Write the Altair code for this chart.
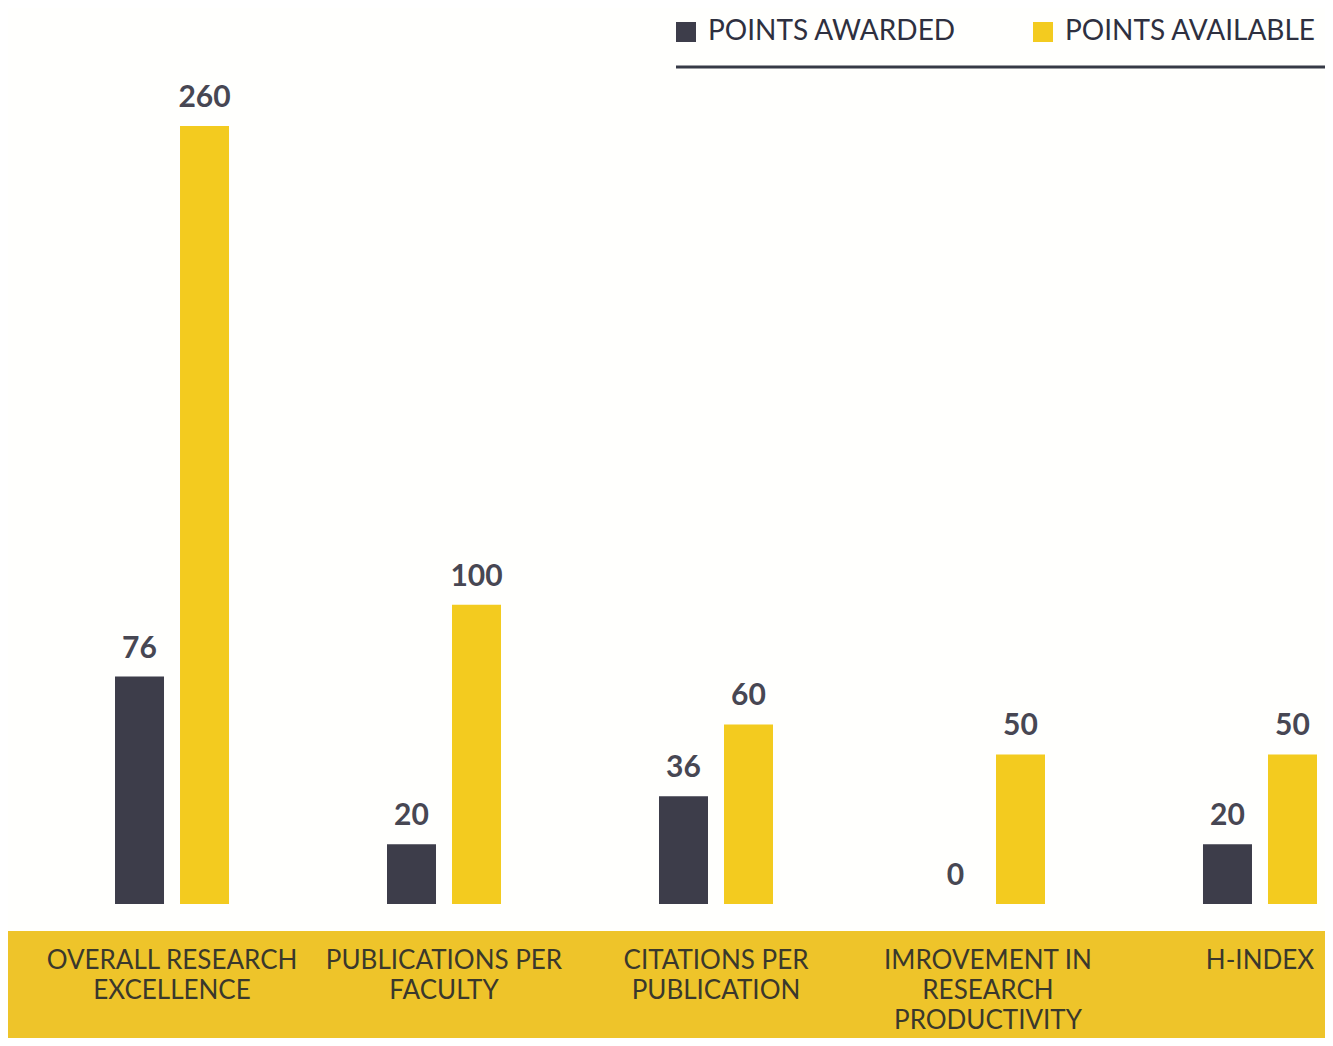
import altair as alt
import pandas as pd

categories = [
    "OVERALL RESEARCH\nEXCELLENCE",
    "PUBLICATIONS PER\nFACULTY",
    "CITATIONS PER\nPUBLICATION",
    "IMROVEMENT IN\nRESEARCH\nPRODUCTIVITY",
    "H-INDEX",
]
series_names = ["POINTS AWARDED", "POINTS AVAILABLE"]
points_awarded = [76, 20, 36, 0, 20]
points_available = [260, 100, 60, 50, 50]
series_colors = ["#3d3d4a", "#f3cb1f"]

rows = []
for c, a, v in zip(categories, points_awarded, points_available):
    rows.append({"category": c, "series": series_names[0], "value": a})
    rows.append({"category": c, "series": series_names[1], "value": v})
df = pd.DataFrame(rows)

W = 1317
H = 778

x_enc = alt.X(
    "category:N",
    sort=categories,
    scale=alt.Scale(paddingInner=0.522, paddingOuter=0.182, align=1),
    axis=alt.Axis(
        title=None,
        labelAngle=0,
        labelFont="Lato",
        labelFontSize=26,
        labelColor="#3a382c",
        labelPadding=43,
        labelLineHeight=30,
        labelLimit=400,
        labelExpr="split(datum.label, '\\n')",
        domain=False,
        ticks=False,
        grid=False,
        zindex=1,
    ),
)
xoff_enc = alt.XOffset(
    "series:N",
    sort=series_names,
    scale=alt.Scale(domain=series_names, paddingInner=0, paddingOuter=0),
)
y_enc = alt.Y(
    "value:Q",
    scale=alt.Scale(domain=[0, 260], nice=False, zero=True),
    axis=None,
)
color_enc = alt.Color(
    "series:N",
    scale=alt.Scale(domain=series_names, range=series_colors),
    legend=alt.Legend(
        title=None,
        orient="none",
        legendX=664,
        legendY=-108,
        direction="horizontal",
        symbolType="square",
        symbolSize=400,
        symbolStrokeWidth=0,
        symbolOpacity=1,
        labelFont="Lato",
        labelFontSize=28,
        labelColor="#2e3040",
        labelOffset=8,
        labelLimit=400,
        columnPadding=72,
    ),
)

band = (
    alt.Chart(alt.Data(values=[{}]))
    .mark_rect(color="#eec42a")
    .encode(x=alt.value(-10), x2=alt.value(W + 10), y=alt.value(805), y2=alt.value(960))
)

underline = (
    alt.Chart(alt.Data(values=[{}]))
    .mark_rule(color="#363a46", strokeWidth=3)
    .encode(x=alt.value(668), x2=alt.value(W + 10), y=alt.value(-59))
)

bars = (
    alt.Chart(df)
    .mark_bar(width=49)
    .encode(x=x_enc, xOffset=xoff_enc, y=y_enc, color=color_enc)
)

labels = (
    alt.Chart(df)
    .mark_text(
        baseline="bottom",
        dy=-13,
        font="Lato",
        fontSize=30,
        fontWeight="bold",
        color="#474753",
    )
    .encode(x=x_enc, xOffset=xoff_enc, y=y_enc, text="value:Q")
)

chart = (
    alt.layer(band, underline, bars, labels)
    .properties(
        width=W,
        height=H,
        autosize=alt.AutoSizeParams(type="none"),
        padding={"left": 0, "top": 118, "right": 0, "bottom": 134},
        background="#fffffd",
    )
    .configure_view(stroke="transparent")
)

chart.save("out.html", embed_options={"renderer": "svg", "actions": False})
